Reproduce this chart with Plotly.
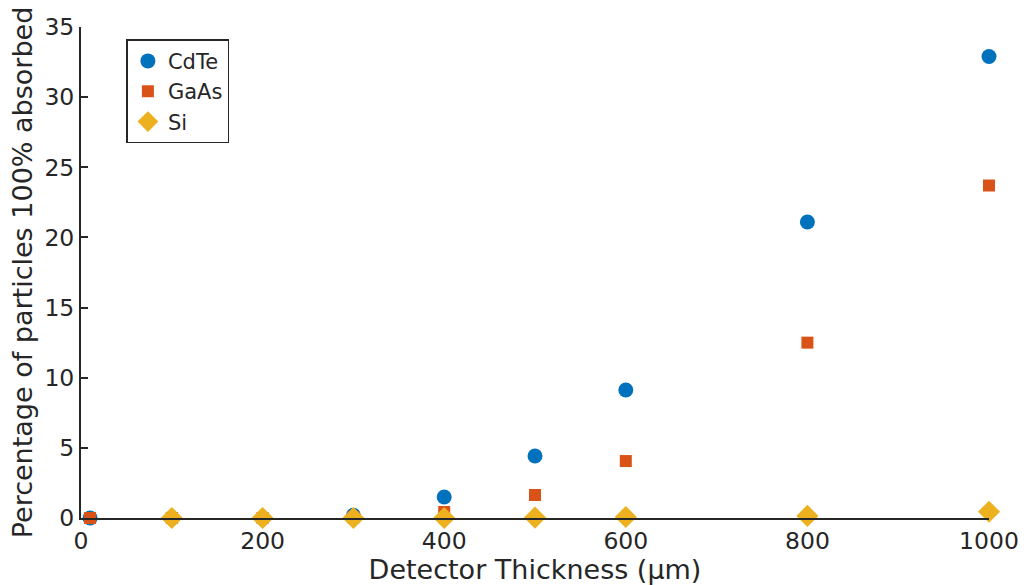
import plotly.graph_objects as go

x_cdte = [10, 100, 200, 300, 400, 500, 600, 800, 1000]
y_cdte = [0, 0, 0, 0.2, 1.5, 4.42, 9.12, 21.1, 32.9]
x_gaas = [10, 100, 200, 300, 400, 500, 600, 800, 1000]
y_gaas = [0, 0, 0, 0.05, 0.43, 1.64, 4.06, 12.5, 23.7]
x_si = [100, 200, 300, 400, 500, 600, 800, 1000]
y_si = [0, 0, 0, 0, 0.03, 0.07, 0.15, 0.45]

x_ticks = [0, 200, 400, 600, 800, 1000]
y_ticks = [0, 5, 10, 15, 20, 25, 30, 35]

fig = go.Figure()
fig.add_trace(go.Scatter(x=x_cdte, y=y_cdte, mode="markers", name="CdTe",
                         marker=dict(symbol="circle", size=15, color="#0072BD"),
                         cliponaxis=False))
fig.add_trace(go.Scatter(x=x_gaas, y=y_gaas, mode="markers", name="GaAs",
                         marker=dict(symbol="square", size=12, color="#D95319"),
                         cliponaxis=False))
fig.add_trace(go.Scatter(x=x_si, y=y_si, mode="markers", name="Si",
                         marker=dict(symbol="diamond", size=17, color="#EDB120"),
                         cliponaxis=False))

axis_common = dict(showgrid=False, zeroline=False, showline=True, linecolor="#262626",
                   linewidth=2, tickwidth=2, tickcolor="#262626", automargin=False,
                   tickfont=dict(family="DejaVu Sans", size=23.5, color="#262626"))
fig.update_xaxes(range=[0, 1000], tickvals=x_ticks, ticks="", ticklabelstandoff=1,
                 title=dict(text="Detector Thickness (μm)", standoff=4,
                            font=dict(family="DejaVu Sans", size=27, color="#262626")),
                 **axis_common)
fig.update_yaxes(range=[0, 35], tickvals=y_ticks, ticks="inside", ticklen=7,
                 title=dict(text="Percentage of particles 100% absorbed", standoff=4,
                            font=dict(family="DejaVu Sans", size=27, color="#262626")),
                 **axis_common)

fig.update_layout(
    width=1028, height=585,
    margin=dict(l=81, r=39, t=27, b=67),
    plot_bgcolor="white", paper_bgcolor="white",
    legend=dict(x=0.05, y=0.975, xanchor="left", yanchor="top",
                bordercolor="#262626", borderwidth=1.5, bgcolor="white",
                font=dict(family="DejaVu Sans", size=21, color="#262626"),
                itemsizing="trace", tracegroupgap=0, itemwidth=30,
                entrywidth=60),
)

fig.write_html("out.html")
